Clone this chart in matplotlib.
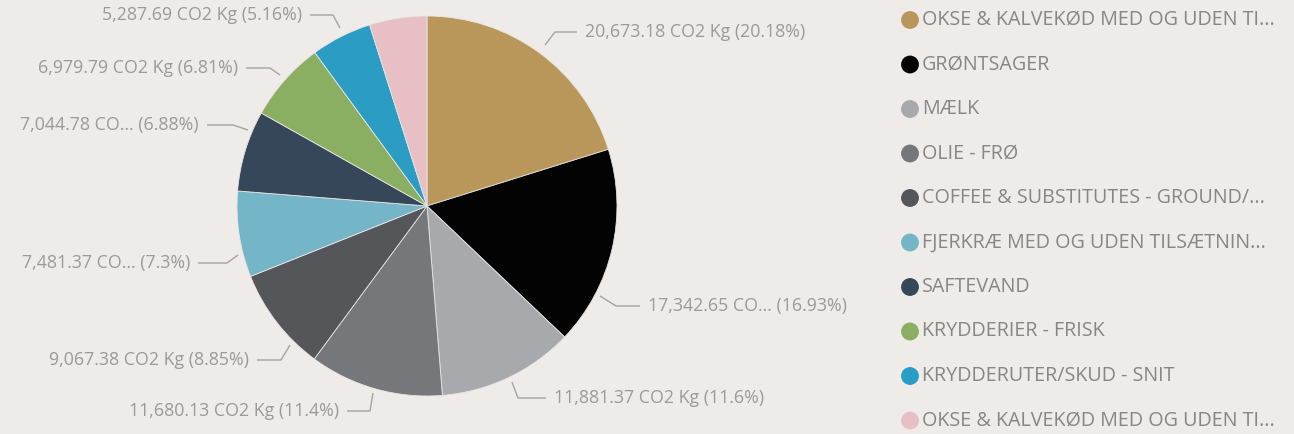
import matplotlib.pyplot as plt

# CO2 per product group
categories = [
    'OKSE & KALVEKØD MED OG UDEN TI...',
    'GRØNTSAGER',
    'MÆLK',
    'OLIE - FRØ',
    'COFFEE & SUBSTITUTES - GROUND/...',
    'FJERKRÆ MED OG UDEN TILSÆTNIN...',
    'SAFTEVAND',
    'KRYDDERIER - FRISK',
    'KRYDDERUTER/SKUD - SNIT',
    'OKSE & KALVEKØD MED OG UDEN TI...',
]
co2_kg = [20673.18, 17342.65, 11881.37, 11680.13, 9067.38,
          7481.37, 7044.78, 6979.79, 5287.69, 5005.66]
colors = ['#B9975B', '#030303', '#A8A9AD', '#75777A', '#54565A',
          '#74B5C7', '#36475A', '#8BAF62', '#2B9CC3', '#E7BFC5']
# labels that get cut short ("CO...") for lack of room
short_label = [False, True, False, False, False, True, True, False, False]

W, H = 1294, 434
BG = '#EEEBE8'

# label layout in pixels (y from top): leader start, elbow, end, text side
leaders = [
    ((545, 45), (555, 32), (577, 32), 'left'),
    ((600, 296), (616, 306), (640, 306), 'left'),
    ((512, 382), (518, 398), (546, 398), 'left'),
    ((373, 393), (370, 411), (347, 411), 'right'),
    ((290, 345), (281, 360), (257, 360), 'right'),
    ((238, 255), (227, 263), (198, 263), 'right'),
    ((248, 130), (233, 125), (207, 125), 'right'),
    ((280, 75), (270, 68), (246, 68), 'right'),
    ((340, 28), (333, 15), (310, 15), 'right'),
]


def fy(y):
    return H - y


fig = plt.figure(figsize=(W / 100, H / 100), dpi=100, facecolor=BG)
ax = fig.add_axes([0, 0, 1, 1])
ax.set_facecolor(BG)

wedges, _ = ax.pie(co2_kg, colors=colors, startangle=90, counterclock=False,
                   center=(427, fy(206)), radius=190, frame=True,
                   wedgeprops=dict(linewidth=0.6, edgecolor='#E9E6E3'))

total = sum(co2_kg)
for i, (p0, p1, p2, side) in enumerate(leaders):
    v = co2_kg[i]
    pct = f'{v / total * 100:.2f}'.rstrip('0').rstrip('.')
    unit = 'CO...' if short_label[i] else 'CO2 Kg'
    text = f'{v:,.2f} {unit} ({pct}%)'
    xs = [p0[0], p1[0], p2[0]]
    ys = [fy(p0[1]), fy(p1[1]), fy(p2[1])]
    ax.plot(xs, ys, color='#A4A4A4', lw=1.0, solid_capstyle='butt')
    if side == 'left':
        ax.text(p2[0] + 8, fy(p2[1]), text, ha='left', va='center',
                fontsize=12.8, color='#9A9A9A', family='Open Sans')
    else:
        ax.text(p2[0] - 8, fy(p2[1]), text, ha='right', va='center',
                fontsize=12.8, color='#9A9A9A', family='Open Sans')

# legend down the right side
for i, (name, c) in enumerate(zip(categories, colors)):
    y = fy(20 + i * 44.5)
    ax.scatter([910], [y], s=165, color=c, edgecolors='none')
    ax.text(922, y, name, ha='left', va='center', fontsize=14.2,
            color='#868686', family='Open Sans')

ax.set_xlim(0, W)
ax.set_ylim(0, H)
ax.axis('off')

fig.savefig('out.png', dpi=100, facecolor=BG)
